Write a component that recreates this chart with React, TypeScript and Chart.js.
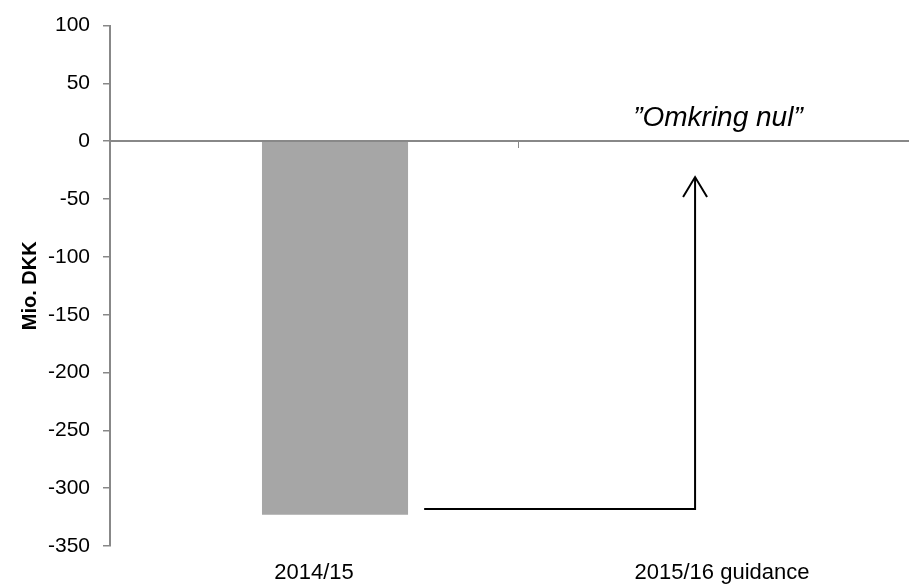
import React, { useEffect, useRef } from "react";
import { Chart, registerables } from "chart.js";

Chart.register(...registerables);

// ---- data ----
const categories = ["2014/15", "2015/16 guidance"];
const placeholderValues: (number | null)[] = [null, null];
const resultValues: (number | null)[] = [-323, null];
const yTickValues = [100, 50, 0, -50, -100, -150, -200, -250, -300, -350];
const yAxisTitle = "Mio. DKK";
// arrow path in data units (category index, value)
const arrowXs = [0.27, 0.934, 0.934];
const arrowYs = [-318, -318, -31];
const noteText = "\u201DOmkring nul\u201D";
const noteX = 0.99;
const noteY = 13;

const FONT = "'Liberation Sans', Arial, Helvetica, sans-serif";

const annotationPlugin = {
  id: "arrowNote",
  afterDatasetsDraw(chart: any) {
    const { ctx, scales } = chart;
    const xs = scales.x;
    const ys = scales.y;
    const pts = arrowXs.map((xv, i) => [xs.getPixelForValue(xv), ys.getPixelForValue(arrowYs[i])]);
    ctx.save();
    ctx.strokeStyle = "#000";
    ctx.lineWidth = 2;
    ctx.lineJoin = "miter";
    ctx.beginPath();
    pts.forEach((p, i) => (i === 0 ? ctx.moveTo(p[0], p[1]) : ctx.lineTo(p[0], p[1])));
    ctx.stroke();
    // open arrow head at last point
    const tip = pts[pts.length - 1];
    ctx.beginPath();
    ctx.moveTo(tip[0] - 12, tip[1] + 20);
    ctx.lineTo(tip[0], tip[1]);
    ctx.lineTo(tip[0] + 12, tip[1] + 20);
    ctx.stroke();
    // note text
    ctx.fillStyle = "#000";
    ctx.font = `italic 28px ${FONT}`;
    ctx.textAlign = "center";
    ctx.textBaseline = "alphabetic";
    ctx.fillText(noteText, xs.getPixelForValue(noteX), ys.getPixelForValue(noteY));
    ctx.restore();
  },
};

export default function App() {
  const ref = useRef<HTMLCanvasElement | null>(null);

  useEffect(() => {
    if (!ref.current) return;
    const chart = new Chart(ref.current, {
      type: "bar",
      data: {
        labels: categories,
        datasets: [
          {
            label: "placeholder",
            data: placeholderValues as any,
            backgroundColor: "rgba(0,0,0,0)",
          },
          {
            label: "Resultat",
            data: resultValues as any,
            backgroundColor: "#a6a6a6",
            borderWidth: 0,
          },
        ],
      },
      options: {
        animation: false,
        responsive: false,
        categoryPercentage: 0.206,
        barPercentage: 3.476,
        layout: { padding: { top: 24, right: 4, left: 0, bottom: 0 } },
        plugins: {
          legend: { display: false },
          tooltip: { enabled: false },
        },
        scales: {
          x: {
            type: "category",
            position: { y: 0 } as any,
            offset: true,
            border: { display: true, color: "#888888", width: 2 },
            grid: {
              display: true,
              drawOnChartArea: false,
              drawTicks: true,
              tickLength: 6,
              color: "#888888",
              lineWidth: 1,
              offset: true,
            },
            ticks: { display: false },
          },
          x2: {
            type: "category",
            labels: categories,
            position: "bottom",
            offset: true,
            border: { display: false },
            grid: { display: false, drawTicks: false },
            ticks: {
              color: "#000",
              font: { family: FONT, size: 22 },
              padding: 14,
              maxRotation: 0,
              autoSkip: false,
            },
            afterFit: (s: any) => {
              s.height = 41;
            },
          },
          y: {
            type: "linear",
            min: -350,
            max: 100,
            afterBuildTicks: (s: any) => {
              s.ticks = yTickValues.map((v) => ({ value: v }));
            },
            afterFit: (s: any) => {
              s.width = 110;
            },
            border: { display: true, color: "#888888", width: 2 },
            grid: {
              drawOnChartArea: false,
              drawTicks: true,
              tickLength: 7,
              color: "#888888",
              lineWidth: 1.5,
            },
            ticks: {
              color: "#000",
              font: { family: FONT, size: 21 },
              padding: 13,
            },
            title: {
              display: true,
              text: yAxisTitle,
              color: "#000",
              font: { family: FONT, size: 20, weight: "bold" },
              padding: { top: 18, bottom: 0 },
            },
          },
        },
      },
      plugins: [annotationPlugin],
    });
    return () => chart.destroy();
  }, []);

  return (
    <div
      style={{
        position: "absolute",
        left: 0,
        top: 0,
        width: 909,
        height: 587,
        overflow: "hidden",
        background: "#fff",
      }}
    >
      <canvas ref={ref} width={930} height={587} style={{ display: "block" }} />
    </div>
  );
}
